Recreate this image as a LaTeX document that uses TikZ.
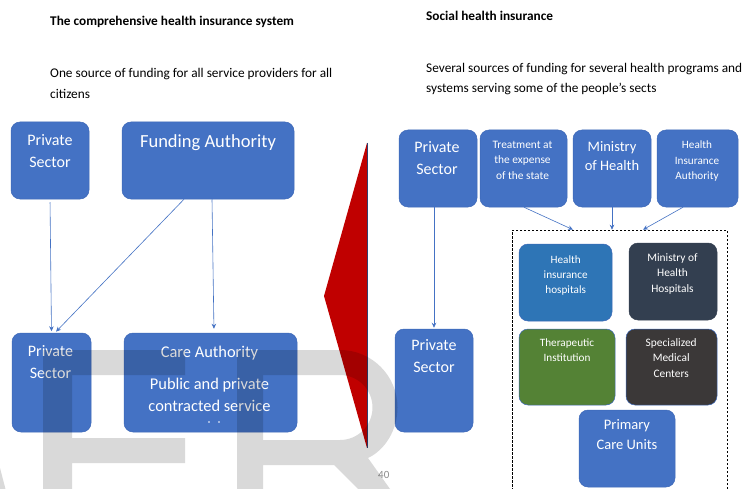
\documentclass[tikz,border=0pt]{standalone}
\usepackage{fontspec}
\setmainfont{Carlito}
\usetikzlibrary{arrows.meta}
\definecolor{boxblue}{HTML}{4472C4}
\definecolor{boxedge}{HTML}{3D68B8}
\definecolor{hihblue}{HTML}{2E75B6}
\definecolor{slate}{HTML}{333F50}
\definecolor{leaf}{HTML}{548235}
\definecolor{charcoal}{HTML}{3B3838}
\definecolor{wedge}{HTML}{C00000}
\definecolor{wedgeedge}{HTML}{2F3F6F}
\definecolor{pagenum}{HTML}{8C8C8C}
% fixes the height of the first line so that north sits 0.75em above its baseline
\newcommand\firstline{\rule{0pt}{0.75em}}

\begin{document}
\begin{tikzpicture}[x=1pt,y=-1pt,
  panel/.style={rectangle, rounded corners=9pt, fill=boxblue, draw=boxedge,
                line width=0.5pt, inner sep=0pt},
  boxtext/.style={text=white, align=center, anchor=north, inner sep=0pt},
  feed/.style={draw=boxblue, line width=0.6pt, -{Stealth[length=5pt,width=4.5pt]}},
  heading/.style={anchor=base west, inner sep=0pt, font=\fontsize{13.3}{16}\selectfont\bfseries},
  blurb/.style={anchor=north west, align=left, inner sep=0pt},
  wmark/.style={fill=black, fill opacity=0.15}
]
\useasboundingbox (0,0) rectangle (746,489);
\clip (0,0) rectangle (746,489);
\fill[white] (0,0) rectangle (746,489);

% ---------- headings ----------
\node[heading] (tleft) at (50,25.7) {The comprehensive health insurance system};
\node[blurb, font=\fontsize{13.3}{20.6}\selectfont] (sleft) at (50,67.7)
  {\firstline One source of funding for all service providers for all\\citizens};
\node[heading] (tright) at (426,20.7) {Social health insurance};
\node[blurb, font=\fontsize{13.3}{20}\selectfont] (sright) at (426,62.7)
  {\firstline Several sources of funding for several health programs and\\systems serving some of the people’s sects};

% ---------- left scheme ----------
\node[panel, minimum width=78pt, minimum height=77pt] (ps1) at (50,160.5) {};
\node[boxtext, font=\fontsize{16}{22}\selectfont] (ps1t) at (50,133) {\firstline Private\\Sector};
\node[panel, minimum width=172pt, minimum height=77pt] (fa) at (208,160.5) {};
\node[boxtext, font=\fontsize{18.5}{22}\selectfont] (fat) at (208,133.1) {\firstline Funding Authority};
\node[panel, minimum width=79pt, minimum height=99pt] (ps2) at (51.5,382.5) {};
\node[boxtext, font=\fontsize{16}{22}\selectfont] (ps2t) at (50.5,344) {\firstline Private\\Sector};
\node[panel, minimum width=173pt, minimum height=99pt] (care) at (210.5,382.5) {};
\node[boxtext, font=\fontsize{16.4}{22}\selectfont] (caret) at (209.5,344.7) {\firstline Care Authority};
\node[boxtext, font=\fontsize{16.4}{22}\selectfont] (caresub) at (209.5,376.7)
  {\firstline Public and private\\contracted service};
\fill[white] (209,422) circle (0.9) (219,422) circle (0.9);

\draw[feed, shorten <=3pt, shorten >=1.5pt] (ps1.south) -- (ps2.north);
\draw[feed, shorten >=1.5pt] ([xshift=-24pt]fa.south) -- ([xshift=3.5pt]ps2.north);
\draw[feed, shorten >=4pt] ([xshift=4pt]fa.south) -- ([xshift=3.5pt]care.north);

% ---------- red wedge ----------
\fill[wedge] (367,143) -- (324,296) -- (367,448) -- cycle;
\draw[wedgeedge, line width=0.5pt] (367,143) -- (367,448);

% ---------- right scheme ----------
\node[panel, minimum width=78pt, minimum height=77pt] (rps1) at (438,168.5) {};
\node[boxtext, font=\fontsize{16}{22}\selectfont] (rps1t) at (437,140) {\firstline Private\\Sector};
\node[panel, minimum width=87pt, minimum height=77pt] (tr) at (523.5,168.5) {};
\node[boxtext, font=\fontsize{11.4}{15.5}\selectfont] (trt) at (522.5,139.5)
  {\firstline Treatment at\\the expense\\of the state};
\node[panel, minimum width=78pt, minimum height=77pt] (moh) at (612,168.5) {};
\node[boxtext, font=\fontsize{14.5}{19.7}\selectfont] (moht) at (612,140.1) {\firstline Ministry\\of Health};
\node[panel, minimum width=81pt, minimum height=77pt] (hia) at (697.5,168.5) {};
\node[boxtext, font=\fontsize{11.2}{15.5}\selectfont] (hiat) at (697,140.1)
  {\firstline Health\\Insurance\\Authority};
\node[panel, minimum width=78pt, minimum height=103pt] (rps2) at (434,380.5) {};
\node[boxtext, font=\fontsize{16}{22}\selectfont] (rps2t) at (434,338.5) {\firstline Private\\Sector};

\node[draw=black, dashed, dash pattern=on 2.5pt off 1.5pt, line width=0.6pt,
      minimum width=215pt, minimum height=280pt, inner sep=0pt] (grp) at (619.5,370) {};

\node[panel, fill=hihblue, minimum width=93pt, minimum height=77pt] (hih) at (565.5,282.5) {};
\node[boxtext, font=\fontsize{11.2}{15}\selectfont] (hiht) at (565.7,254.6)
  {\firstline Health\\insurance\\hospitals};
\node[panel, fill=slate, draw=slate, minimum width=88pt, minimum height=77pt] (mohh) at (673,281.5) {};
\node[boxtext, font=\fontsize{11.4}{15.3}\selectfont] (mohht) at (672.5,252.9)
  {\firstline Ministry of\\Health\\Hospitals};
\node[panel, fill=leaf, minimum width=96pt, minimum height=76pt] (ti) at (567,367) {};
\node[boxtext, font=\fontsize{11.2}{15}\selectfont] (tit) at (567,337.5)
  {\firstline Therapeutic\\Institution};
\node[panel, fill=charcoal, minimum width=91pt, minimum height=76pt] (smc) at (671.5,367) {};
\node[boxtext, font=\fontsize{11.4}{15.5}\selectfont] (smct) at (671.2,337.5)
  {\firstline Specialized\\Medical\\Centers};
\node[panel, minimum width=96pt, minimum height=77pt] (pcu) at (627,448.5) {};
\node[boxtext, font=\fontsize{14.5}{20}\selectfont] (pcut) at (627,418.6)
  {\firstline Primary\\Care Units};

\draw[feed, shorten >=1pt] ([xshift=-4pt]rps1.south) -- (rps2.north);
\draw[feed] ([xshift=0.5pt]tr.south) -- ([xshift=-46.5pt]grp.north);
\draw[feed] (moh.south) -- ([xshift=-7.5pt]grp.north);
\draw[feed] ([xshift=-14.5pt]hia.south) -- ([xshift=23.5pt]grp.north);

% ---------- page number ----------
\node[anchor=base west, inner sep=0pt, text=pagenum, font=\fontsize{11}{13}\selectfont] (pnum) at (378,478.3) {40};

% ---------- translucent background lettering ----------
\fill[wmark] (0,468) -- (5.5,489) -- (0,489) -- cycle;
\fill[wmark] (43,489) -- (43,350) -- (185,350) -- (185,375) -- (72,375) -- (72,438)
  -- (185,438) -- (185,463) -- (72,463) -- (72,489) -- cycle;
\fill[wmark, even odd rule] (237,489) -- (237,350) -- (340,350)
  .. controls (371.8,350) and (397.5,375.7) .. (397.5,407.5)
  .. controls (397.5,430) and (385,450) .. (368,458)
  -- (390,489) -- (358,489) -- (334,465) -- (263,465) -- (263,489) -- cycle
  (263,375) -- (340,375)
  .. controls (357.9,375) and (372.5,389.5) .. (372.5,407.5)
  .. controls (372.5,425.5) and (357.9,440) .. (340,440) -- (263,440) -- cycle;
\end{tikzpicture}
\end{document}
